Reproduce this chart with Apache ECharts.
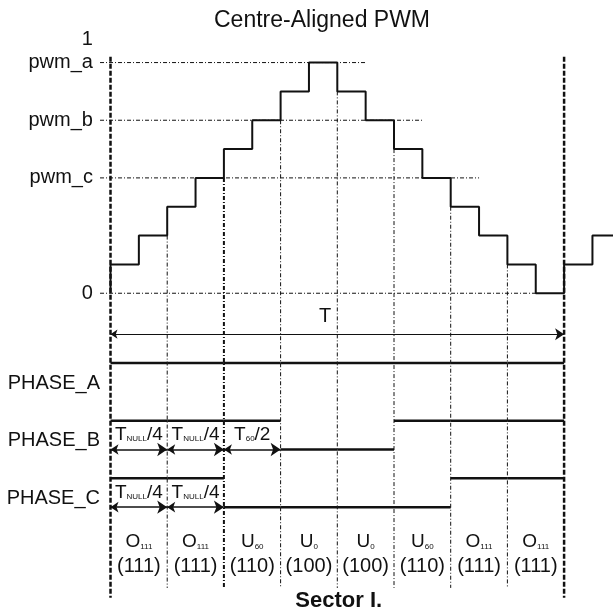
<!DOCTYPE html>
<html>
<head>
<meta charset="utf-8">
<script src="https://cdn.jsdelivr.net/npm/echarts@6/dist/echarts.min.js"></script>
<style>
  html, body { margin: 0; background: #fff; }
  #chart { width: 613px; height: 613px; }
</style>
</head>
<body>
<div id="chart"></div>
<script>
// counter value in each half slot (x = 0..17), 0 = bottom, 8 = top
const stairLevels = [1, 2, 3, 4, 5, 6, 7, 8, 7, 6, 5, 4, 3, 2, 1, 0, 1, 2];
// compare levels
const refNames = ['pwm_a', 'pwm_b', 'pwm_c', '0'];
const refLevels = [8, 6, 4, 0];
const refEnds = [9, 11, 13, 15];
// the 8 slots of the period
const vectorNames = ['O', 'O', 'U', 'U', 'U', 'U', 'O', 'O'];
const vectorSubs = ['111', '111', '60', '0', '0', '60', '111', '111'];
const vectorCodes = ['111', '111', '110', '100', '100', '110', '111', '111'];
const phaseNames = ['PHASE_A', 'PHASE_B', 'PHASE_C'];
// timing arrows: phase index, slot, subscript, tail
const timing = [
  [1, 0, 'NULL', '/4'], [1, 1, 'NULL', '/4'], [1, 2, '60', '/2'],
  [2, 0, 'NULL', '/4'], [2, 1, 'NULL', '/4']
];

// layout (axis units: x = half slot, y = one counter step)
const phaseHigh = [-2.42, -4.42, -6.42];
const rowT = -1.42;
const FONT = '"Liberation Sans", Arial, sans-serif';
const INK = '#111';

const slotCount = vectorCodes.length;
const xEnd = slotCount * 2;

// staircase data
const stairData = [[0, 0]].concat(stairLevels.map((v, i) => [i, v]));
stairData.push([stairLevels.length, stairLevels[stairLevels.length - 1]]);

// dash-dot compare lines
const refData = refLevels.map((v, i) => [-0.37, v, refEnds[i], v]);

// slot boundaries
const outerBounds = [[0, 8.2, 0, -10.56], [xEnd, 8.2, xEnd, -10.56]];
const innerBounds = [], midBounds = [];
for (let k = 1; k < slotCount; k++) {
  const x = k * 2;
  const top = Math.min(stairLevels[x - 1], stairLevels[x]);
  (k === 2 ? midBounds : innerBounds).push([x, top, x, -10.22]);
}

// phase outputs
const phaseData = [];
phaseNames.forEach((n, p) => {
  vectorCodes.forEach((code, s) => {
    const y = code[p] === '1' ? phaseHigh[p] : phaseHigh[p] - 1;
    phaseData.push([s * 2, y, s * 2 + 2, y]);
  });
});

// arrows
const arrowData = timing.map(t => ({ coords: [[t[1] * 2, phaseHigh[t[0]] - 1], [t[1] * 2 + 2, phaseHigh[t[0]] - 1]] }));

// texts: [x, y, text, align]
const texts = [];
refNames.forEach((n, i) => texts.push([-0.62, refLevels[i], n, 'right']));
texts.push([-0.62, 8.79, '1', 'right']);
phaseNames.forEach((n, p) => texts.push([-0.37, phaseHigh[p] - 0.7, n, 'right']));
texts.push([7.57, -0.82, 'T', 'center']);
timing.forEach(t => texts.push([t[1] * 2 + 1, phaseHigh[t[0]] - 0.5, '{b|T}{s|' + t[2] + '}{b|' + t[3] + '}', 'center']));
vectorNames.forEach((n, s) => {
  texts.push([s * 2 + 1, -8.62, '{b|' + n + '}{v|' + vectorSubs[s] + '}', 'center']);
  texts.push([s * 2 + 1, -9.48, '(' + vectorCodes[s] + ')', 'center']);
});
texts.push([8.05, -10.66, '{h|Sector I.}', 'center']);

const rich = {
  b: { fontSize: 19, fontFamily: FONT, color: '#111', lineHeight: 22 },
  s: { fontSize: 8, fontFamily: FONT, color: '#111', padding: [8, 0, 0, 0] },
  v: { fontSize: 8, fontFamily: FONT, color: '#111', padding: [11, 0, 0, 0] },
  h: { fontSize: 22, fontFamily: FONT, color: '#111', fontWeight: 'bold' }
};

function segSeries(data, stroke, width, dash) {
  return {
    type: 'custom',
    data: data,
    encode: { x: [0, 2], y: [1, 3] },
    silent: true,
    renderItem: function (params, api) {
      const a = api.coord([api.value(0), api.value(1)]);
      const b = api.coord([api.value(2), api.value(3)]);
      return {
        type: 'line',
        shape: { x1: a[0], y1: a[1], x2: b[0], y2: b[1] },
        style: { stroke: stroke, lineWidth: width, lineDash: dash, fill: null }
      };
    }
  };
}

const chart = echarts.init(document.getElementById('chart'), null, { renderer: 'canvas' });
chart.setOption({
  animation: false,
  backgroundColor: '#fff',
  title: {
    text: 'Centre-Aligned PWM',
    left: 209, top: 4,
    textStyle: { fontSize: 23, fontWeight: 'normal', fontFamily: FONT, color: '#111' }
  },
  grid: { left: 0, right: 0, top: 0, bottom: 0 },
  xAxis: { type: 'value', min: -3.898, max: 17.725, show: false },
  yAxis: { type: 'value', min: -11.09, max: 10.17, show: false },
  series: [
    segSeries(refData, INK, 1, [4, 2, 1, 2]),
    segSeries(innerBounds, INK, 1, [4, 2, 1, 2]),
    segSeries(midBounds, INK, 2, [4, 2, 1, 2]),
    segSeries(outerBounds, INK, 2.5, [5, 2]),
    segSeries(phaseData, INK, 2.5, null),
    {
      type: 'line',
      data: stairData,
      step: 'end',
      symbol: 'none',
      lineStyle: { color: INK, width: 2 },
      silent: true
    },
    {
      type: 'lines',
      coordinateSystem: 'cartesian2d',
      symbol: ['arrow', 'arrow'],
      symbolSize: [7, 9],
      lineStyle: { color: INK, width: 1, opacity: 1, curveness: 0 },
      data: [{ coords: [[0, rowT], [xEnd, rowT]] }],
      silent: true
    },
    {
      type: 'lines',
      coordinateSystem: 'cartesian2d',
      symbol: ['arrow', 'arrow'],
      symbolSize: [8, 10],
      lineStyle: { color: INK, width: 1.5, opacity: 1, curveness: 0 },
      data: arrowData,
      silent: true
    },
    {
      type: 'custom',
      data: texts.map(t => [t[0], t[1]]),
      silent: true,
      renderItem: function (params, api) {
        const t = texts[params.dataIndex];
        const p = api.coord([t[0], t[1]]);
        return {
          type: 'text',
          x: p[0], y: p[1],
          style: {
            text: t[2],
            rich: rich,
            align: t[3],
            verticalAlign: 'middle',
            fontSize: 20,
            fontFamily: FONT,
            fill: '#111'
          }
        };
      }
    }
  ]
});
</script>
</body>
</html>
